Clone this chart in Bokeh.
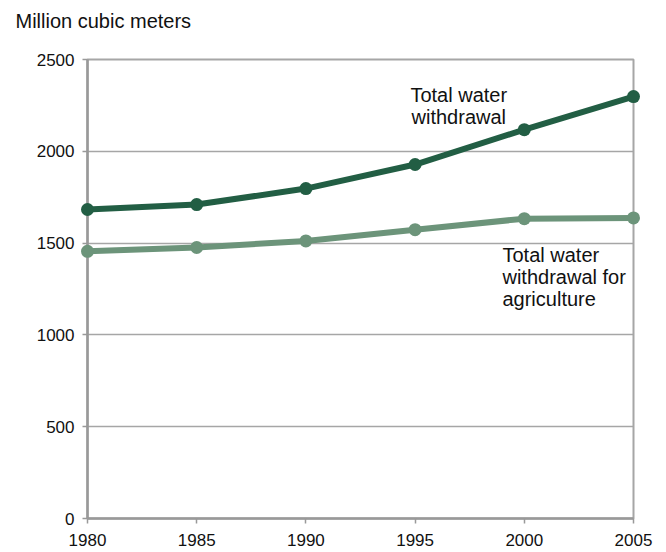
from bokeh.plotting import figure
from bokeh.models import FixedTicker, Range1d
from bokeh.core.properties import value
from bokeh.embed import file_html
from bokeh.resources import INLINE

years = [1980, 1985, 1990, 1995, 2000, 2005]
total = [1683, 1710, 1797, 1928, 2118, 2298]
agri = [1455, 1476, 1512, 1573, 1633, 1637]
y_ticks = [0, 500, 1000, 1500, 2000, 2500]
unit_label = "Million cubic meters"
label_total = "Total water\nwithdrawal"
label_agri = "Total water\nwithdrawal for\nagriculture"

DARK = "#225e44"
LIGHT = "#6c947a"
GRID = "#a6a6a6"
FONT = "Liberation Sans"

p = figure(width=658, height=552, output_backend="svg", toolbar_location=None,
           x_range=Range1d(1980, 2005), y_range=Range1d(0, 2500),
           min_border_left=87, min_border_right=25, min_border_top=59, min_border_bottom=34)

p.xgrid.visible = False
p.ygrid.ticker = FixedTicker(ticks=y_ticks)
p.ygrid.grid_line_color = GRID
p.ygrid.grid_line_width = 1.5
p.outline_line_color = GRID
p.outline_line_width = 2

for ax in (p.xaxis, p.yaxis):
    ax.axis_line_color = "#999999"
    ax.axis_line_width = 2.5
    ax.major_tick_line_color = "#999999"
    ax.major_tick_line_width = 1.5
    ax.minor_tick_line_color = None
    ax.major_tick_in = 0
    ax.major_label_text_font = FONT
    ax.major_label_text_font_size = "17px"
    ax.major_label_text_color = "#111111"

p.xaxis.ticker = FixedTicker(ticks=years)
p.xaxis.major_tick_out = 5
p.xaxis.major_label_standoff = 10
p.yaxis.ticker = FixedTicker(ticks=y_ticks)
p.yaxis.major_tick_out = 5
p.yaxis.major_label_standoff = 8

l1 = p.line(years, agri, line_color=LIGHT, line_width=6)
s1 = p.scatter(years, agri, size=13, fill_color=LIGHT, line_color=None)
l2 = p.line(years, total, line_color=DARK, line_width=6)
s2 = p.scatter(years, total, size=13, fill_color=DARK, line_color=None)

# unit label floated above the frame's top-left corner
t0 = p.text(x=[years[0]], y=[y_ticks[-1]], text=[unit_label], x_offset=-72, y_offset=-39,
            text_align="left", text_baseline="middle", text_font=value(FONT),
            text_font_size="20px", text_color="#111111")

t1 = p.text(x=[1997.0], y=[2247], text=[label_total], text_align="center",
            text_baseline="middle", text_font=value(FONT), text_font_size="20px",
            text_color="#111111", text_line_height=1.0)
t2 = p.text(x=[1999.0], y=[1318], text=[label_agri], text_align="left",
            text_baseline="middle", text_font=value(FONT), text_font_size="20px",
            text_color="#111111", text_line_height=1.0)
for r in (l1, s1, l2, s2, t0, t1, t2):
    r.level = "overlay"

open("out.html", "w").write(file_html(p, INLINE))
